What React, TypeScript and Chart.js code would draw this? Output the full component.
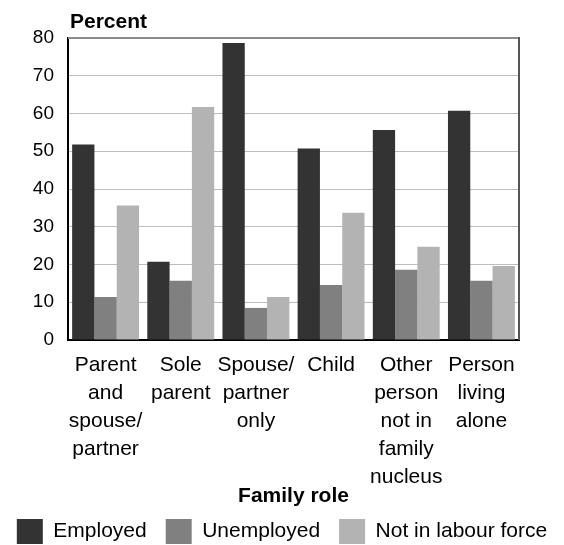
import React, { useEffect, useRef } from "react";
import { Chart, registerables } from "chart.js";

Chart.register(...registerables);

const categories: string[][] = [
  ["Parent", "and", "spouse/", "partner"],
  ["Sole", "parent"],
  ["Spouse/", "partner", "only"],
  ["Child"],
  ["Other", "person", "not in", "family", "nucleus"],
  ["Person", "living", "alone"],
];
const seriesNames = ["Employed", "Unemployed", "Not in labour force"];
const employed = [51.8, 20.7, 78.7, 50.7, 55.6, 60.7];
const unemployed = [11.4, 15.7, 8.5, 14.6, 18.6, 15.7];
const notInLabourForce = [35.6, 61.7, 11.4, 33.7, 24.7, 19.6];
const yTicks = [0, 10, 20, 30, 40, 50, 60, 70, 80];
const colors = ["#333333", "#808080", "#b3b3b3"];

const FONT = '"Liberation Sans", Arial, sans-serif';

export default function App() {
  const ref = useRef<HTMLCanvasElement | null>(null);
  useEffect(() => {
    document.body.style.margin = "0";
    if (!ref.current) return;
    const framePlugin = {
      id: "frame",
      afterDraw(chart: any) {
        const { ctx, chartArea } = chart;
        ctx.save();
        ctx.lineWidth = 2;
        ctx.strokeStyle = "#8c8c8c";
        ctx.beginPath();
        ctx.moveTo(chartArea.left, chartArea.top);
        ctx.lineTo(chartArea.right, chartArea.top);
        ctx.stroke();
        ctx.strokeStyle = "#555555";
        ctx.beginPath();
        ctx.moveTo(chartArea.right, chartArea.top - 1);
        ctx.lineTo(chartArea.right, chartArea.bottom);
        ctx.stroke();
        ctx.fillStyle = "#000";
        ctx.font = `bold 21px ${FONT}`;
        ctx.textAlign = "left";
        ctx.textBaseline = "alphabetic";
        ctx.fillText("Percent", 70, 28);
        ctx.restore();
      },
    };
    const chart = new Chart(ref.current, {
      type: "bar",
      data: {
        labels: categories,
        datasets: [employed, unemployed, notInLabourForce].map((d, i) => ({
          label: seriesNames[i],
          data: d,
          backgroundColor: colors[i],
          borderWidth: 0,
          categoryPercentage: 0.89,
          barPercentage: 1.0,
        })),
      },
      options: {
        responsive: false,
        animation: false,
        layout: { padding: { top: 38, left: -15, right: -15, bottom: -9 } },
        plugins: {
          legend: {
            position: "bottom",
            labels: {
              boxWidth: 26,
              boxHeight: 25,
              padding: 19,
              color: "#000",
              font: { family: FONT, size: 21 },
            },
          },
          tooltip: { enabled: false },
          title: { display: false },
        },
        scales: {
          x: {
            grid: { display: false, drawTicks: false },
            border: { display: true, color: "#000", width: 2 },
            ticks: {
              color: "#000",
              padding: 11,
              autoSkip: false,
              maxRotation: 0,
              minRotation: 0,
              font: { family: FONT, size: 21, lineHeight: "28px" },
            },
            title: {
              display: true,
              text: "Family role",
              color: "#000",
              font: { family: FONT, size: 21, weight: "bold", lineHeight: "20px" },
              padding: { top: -16, bottom: -6 },
            },
          },
          y: {
            min: 0,
            max: 80,
            afterFit: (s: any) => {
              s.width = 83;
            },
            afterBuildTicks: (s: any) => {
              s.ticks = yTicks.map((v) => ({ value: v }));
            },
            grid: { color: "#bdbdbd", lineWidth: 1, drawTicks: false },
            border: { display: true, color: "#000", width: 2 },
            ticks: {
              color: "#000",
              padding: 14,
              font: { family: FONT, size: 19 },
            },
          },
          y2: {
            position: "right",
            display: true,
            afterFit: (s: any) => {
              s.width = 60;
            },
            grid: { display: false, drawTicks: false },
            border: { display: false },
            ticks: { display: false },
          },
        },
      },
      plugins: [framePlugin],
    } as any);
    return () => chart.destroy();
  }, []);
  return (
    <div style={{ width: 564, height: 545 }}>
      <canvas ref={ref} width={564} height={545} />
    </div>
  );
}
